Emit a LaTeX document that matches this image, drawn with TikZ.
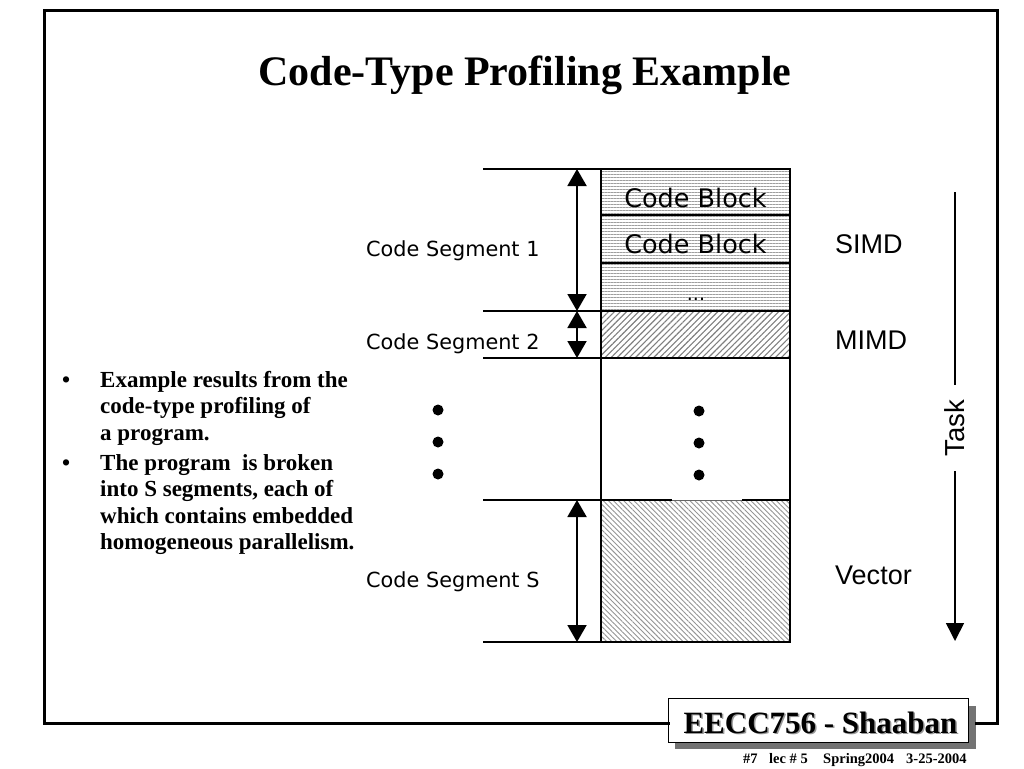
\documentclass[tikz,border=0pt]{standalone}
\usepackage{fontspec}
\setmainfont{Liberation Serif}
\newfontfamily\verd{DejaVu Sans}
\newfontfamily\arial{Liberation Sans}
\usetikzlibrary{patterns.meta,arrows.meta}
\tikzset{
  frame/.style={line width=3pt, line cap=rect},
  rule/.style={line width=2pt},
  dimarrow/.style={line width=2pt, {Triangle[width=19pt,length=17pt]}-{Triangle[width=19pt,length=17pt]}},
  seglabel/.style={font=\verd\fontsize{20.8}{23}\selectfont, anchor=base west, inner sep=0pt},
  cblabel/.style={font=\verd\fontsize{25.5}{28}\selectfont, anchor=base, inner sep=0pt},
  typelabel/.style={font=\arial\fontsize{27}{30}\selectfont, anchor=base west, inner sep=0pt},
  bullettext/.style={font=\bfseries\fontsize{23}{26}\selectfont, anchor=base west, inner sep=0pt},
  dot/.style={circle, fill=black, inner sep=0pt, minimum size=11pt},
  foot/.style={font=\bfseries\fontsize{14.5}{17}\selectfont, anchor=base west, inner sep=0pt},
  hpat/.style={pattern={Lines[angle=0,distance=3pt,line width=0.8pt]}, pattern color=black!38},
  nepat/.style={pattern={Lines[angle=45,distance=4.3pt,line width=1.1pt]}, pattern color=black!50},
  nwpat/.style={pattern={Lines[angle=-45,distance=3.6pt,line width=0.9pt]}, pattern color=black!42},
}
\begin{document}
\begin{tikzpicture}[x=1pt,y=-1pt]
\useasboundingbox (0,0) rectangle (1024,768);
\fill[white] (0,0) rectangle (1024,768);

% footer box with shadow
\fill[black!55] (675,706) rectangle (976,749);
\node (brand) [draw, line width=1.3pt, fill=white, anchor=north west,
  minimum width=300pt, minimum height=44pt, inner sep=0pt] at (668,698) {};
\node[font=\bfseries\fontsize{31}{34}\selectfont, anchor=base, inner sep=0pt, text=black!40] at (822,734.5) {EECC756 - Shaaban};
\node (brandtext) [font=\bfseries\fontsize{31}{34}\selectfont, anchor=base, inner sep=0pt] at (820.5,733) {EECC756 - Shaaban};

% frame
\coordinate (fl) at (brand.west |- 0,723);
\coordinate (fr) at (976,723);
\draw[frame] (fl) -- (44,723) -- (44,10.5) -- (997,10.5) -- (997,723) -- (fr);

% footer line
\node[foot] (f1) at (743,763) {\#7};
\node[foot] (f2) at (769,763) {lec \# 5};
\node[foot] (f3) at (823,763) {Spring2004};
\node[foot] (f4) at (906,763) {3-25-2004};

% title
\node (title) [font=\bfseries\fontsize{42}{50}\selectfont, anchor=base, inner sep=0pt] at (525,85) {Code-Type Profiling Example};

% bullets
\node[bullettext] (b1) at (62,387) {\textbullet};
\node[bullettext] at (100,387) {Example results from the};
\node[bullettext] at (100,413.5) {code-type profiling of};
\node[bullettext] at (100,440) {a program.};
\node[bullettext] (b2) at (62,470) {\textbullet};
\node[bullettext] at (100,470) {The program\ \ is broken};
\node[bullettext] at (100,496.5) {into S segments, each of};
\node[bullettext] at (100,523) {which contains embedded};
\node[bullettext] at (100,549.5) {homogeneous parallelism.};

% cells
\fill[hpat] (601,169) rectangle (790,311);
\fill[nepat] (601,311) rectangle (790,358);
\fill[nwpat] (601,500) rectangle (790,642);
\node[cblabel] (cb1) at (695.5,207) {Code Block};
\node[cblabel] (cb2) at (695.5,253) {Code Block};
\node[font=\verd\fontsize{19}{22}\selectfont, anchor=base, inner sep=0pt] (cb3) at (696,300) {...};

% outlines
\draw[rule] (483,169) -- (790,169);
\draw[rule] (601,215) -- (790,215);
\draw[rule] (601,263) -- (790,263);
\draw[rule] (483,311) -- (790,311);
\draw[rule] (483,358) -- (790,358);
\draw[rule] (483,500) -- (672,500);
\draw[rule] (742,500) -- (790,500);
\draw[line width=0.8pt, black!60] (672,500) -- (742,500);
\draw[rule] (483,642) -- (790,642);
\draw[rule] (601,168) -- (601,643);
\draw[rule] (790,168) -- (790,643);

% dimension arrows
\coordinate (a1t) at (577,169);
\coordinate (a1b) at (577,311);
\coordinate (a2t) at (577,311);
\coordinate (a2b) at (577,358);
\coordinate (a3t) at (577,500);
\coordinate (a3b) at (577,642);
\draw[dimarrow] (a1t) -- (a1b);
\draw[dimarrow] (a2t) -- (a2b);
\draw[dimarrow] (a3t) -- (a3b);

% segment labels
\node[seglabel] (s1) at (366,256) {Code Segment 1};
\node[seglabel] (s2) at (366,349) {Code Segment 2};
\node[seglabel] (s3) at (366,587) {Code Segment S};

% type labels
\node[typelabel] (simd) at (835,253) {SIMD};
\node[typelabel] (mimd) at (835,349) {MIMD};
\node[typelabel] (vec) at (835,584) {Vector};

% dots
\node[dot] (l1) at (438,410) {};
\node[dot] (l2) at (438,442) {};
\node[dot] (l3) at (438,474) {};
\node[dot] (r1) at (699,411) {};
\node[dot] (r2) at (699,443) {};
\node[dot] (r3) at (699,475) {};

% task arrow
\node (task) [rotate=90, font=\arial\fontsize{27.5}{30}\selectfont, inner xsep=15pt, inner ysep=2pt] at (955,428) {Task};
\coordinate (tasktop) at (955,192);
\coordinate (taskend) at (955,641);
\draw[line width=1.6pt] (tasktop) -- (task.east);
\draw[line width=1.6pt, -{Triangle[width=18pt,length=18pt]}] (task.west) -- (taskend);
\end{tikzpicture}
\end{document}
